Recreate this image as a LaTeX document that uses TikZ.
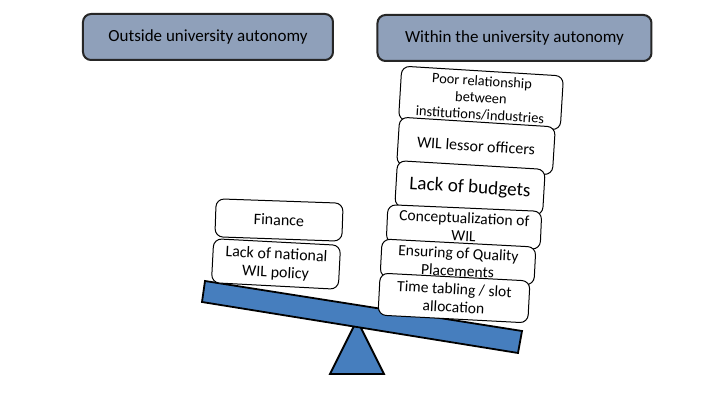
\documentclass[tikz,border=0pt]{standalone}
\usepackage{fontspec}
\setmainfont{Carlito}
\definecolor{headgray}{RGB}{143,160,186}
\definecolor{beamblue}{RGB}{70,126,190}
\begin{document}
\begin{tikzpicture}[x=0.5pt,y=-0.5pt,
    head/.style={draw=black!85,fill=headgray,rounded corners=4pt,line width=1pt,
        minimum height=23pt,font=\fontsize{8.5}{10}\selectfont},
    card/.style={draw,fill=white,rounded corners=4pt,line width=0.5pt,align=center,
        inner sep=0pt,font=\fontsize{8}{9.2}\selectfont},
    seesaw/.style={draw=black,fill=beamblue,line width=0.9pt}]

     \useasboundingbox (0,0) rectangle (720,405);

     %Headers
     \node[head, minimum width=125pt]   (outside) at (208,37) {Outside university autonomy};
     \node[head, minimum width=137pt]   (within)  at (514.5,38) {Within the university autonomy};

     %Seesaw
     \filldraw[seesaw] (357,320) -- (384,374) -- (330,374) -- cycle;
     \filldraw[seesaw] (205,281) -- (522,331) -- (518,353) -- (202,302) -- cycle;

     %Outside factors
     \node[card, rotate=-2, minimum width=63.5pt, minimum height=19pt]   (finance) at (279,220) {Finance};
     \node[card, rotate=-3, minimum width=63.5pt, minimum height=22pt]   (policy)  at (276,264) {Lack of national\\WIL policy};

     %Within factors
     \node[card, rotate=-3.5, minimum width=81pt, minimum height=27pt, font=\fontsize{7.2}{8.4}\selectfont]   (relation) at (481,98) {Poor relationship\\between\\institutions/industries};
     \node[card, rotate=-3.6, minimum width=78pt, minimum height=24pt, font=\fontsize{8}{9}\selectfont]   (officers) at (476,146) {WIL lessor officers};
     \node[card, rotate=-3.4, minimum width=74pt, minimum height=23pt, font=\fontsize{9.6}{10}\selectfont]   (budgets)  at (470,188) {Lack of budgets};
     \node[card, rotate=-2.5, minimum width=77pt, minimum height=19pt, font=\fontsize{7.8}{9}\selectfont]   (concept)  at (464,227) {Conceptualization of\\WIL};
     \node[card, rotate=-3,   minimum width=77pt, minimum height=19pt, font=\fontsize{7.8}{9}\selectfont]   (quality)  at (458,262) {Ensuring of Quality\\Placements};
     \node[card, rotate=-3,   minimum width=75pt, minimum height=21pt, font=\fontsize{7.8}{9}\selectfont]  (timetable) at (454,298) {Time tabling / slot\\allocation};

\end{tikzpicture}
\end{document}
